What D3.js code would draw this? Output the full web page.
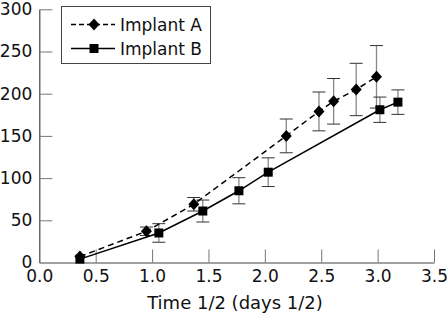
<!DOCTYPE html>
<html>
<head>
<meta charset="utf-8">
<script src="https://cdn.jsdelivr.net/npm/d3@7"></script>
<style>
  body { margin: 0; background: #fff; }
  svg text { font-family: "DejaVu Sans", sans-serif; fill: #111; }
</style>
</head>
<body>
<svg class="chart"></svg>
<script>
var width = 447;
var height = 317;

// series
var implantA_x = [0.36, 0.95, 1.37, 2.19, 2.48, 2.61, 2.81, 2.99];
var implantA_y = [7, 37, 69, 150, 179, 191, 205, 220];
var implantA_err = [0, 5, 8, 20, 23, 27, 31, 37];

var implantB_x = [0.36, 1.06, 1.45, 1.77, 2.03, 3.02, 3.18];
var implantB_y = [4, 35, 61, 85, 107, 181, 190];
var implantB_err = [0, 11, 13, 15.5, 17, 15, 14.5];

var x_ticks = [0, 0.5, 1.0, 1.5, 2.0, 2.5, 3.0, 3.5];
var y_ticks = [0, 50, 100, 150, 200, 250, 300];
var series_names = ['Implant A', 'Implant B'];

var margin = {'top': 9.3, 'right': 13, 'bottom': 54.5, 'left': 39.3};

var chart = d3.select(".chart")
    .attr("width", width)
    .attr("height", height);

var x = d3.scaleLinear()
  .domain([0, 3.5])
  .range([margin.left, width - margin.right]);

var y = d3.scaleLinear()
  .domain([0, 300])
  .range([height - margin.bottom, margin.top]);

var toPoints = function(xs, ys, errs){
  return xs.map(function(v, i){ return {'x': v, 'y': ys[i], 'err': errs[i]}; });
};
var seriesA = toPoints(implantA_x, implantA_y, implantA_err);
var seriesB = toPoints(implantB_x, implantB_y, implantB_err);

// x axis, ticks pointing up into the plot
var x_axis = d3.axisBottom(x)
  .tickValues(x_ticks)
  .tickSizeInner(-13)
  .tickSizeOuter(0)
  .tickFormat(d3.format('.1f'));

var gx = chart.append('g')
  .attr('transform', 'translate(0,' + y(0) + ')')
  .call(x_axis);
gx.select('.domain').attr('stroke', '#444').attr('stroke-width', 1.2);
gx.selectAll('.tick line').attr('stroke', '#777');
gx.selectAll('.tick').filter(function(d){ return d === 0; }).select('line').remove();
gx.selectAll('.tick text')
  .attr('font-size', 17)
  .attr('font-family', '"DejaVu Sans", sans-serif')
  .attr('y', 19)
  .attr('dy', null);

// y axis, ticks pointing right
var y_axis = d3.axisLeft(y)
  .tickValues(y_ticks)
  .tickSizeInner(-13)
  .tickSizeOuter(0)
  .tickPadding(7);

var gy = chart.append('g')
  .attr('transform', 'translate(' + x(0) + ',0)')
  .call(y_axis);
gy.select('.domain').attr('stroke', '#444').attr('stroke-width', 1.2);
gy.selectAll('.tick line').attr('stroke', '#777');
gy.selectAll('.tick').filter(function(d){ return d === 0; }).select('line').remove();
gy.selectAll('.tick text')
  .attr('font-size', 17)
  .attr('font-family', '"DejaVu Sans", sans-serif');

// axis title
chart.append('text')
  .attr('x', 235)
  .attr('y', 309)
  .attr('text-anchor', 'middle')
  .attr('font-size', 18)
  .text('Time 1/2 (days 1/2)');

// error bars
var drawErrors = function(data){
  var g = chart.append('g');
  var bars = g.selectAll('g')
    .data(data.filter(function(d){ return d.err > 0; }))
    .join('g');
  bars.append('line')
    .attr('x1', function(d){ return x(d.x); })
    .attr('x2', function(d){ return x(d.x); })
    .attr('y1', function(d){ return y(d.y + d.err); })
    .attr('y2', function(d){ return y(d.y - d.err); })
    .attr('stroke', '#888')
    .attr('stroke-width', 1.3);
  [1, -1].forEach(function(s){
    bars.append('line')
      .attr('x1', function(d){ return x(d.x) - 6.5; })
      .attr('x2', function(d){ return x(d.x) + 6.5; })
      .attr('y1', function(d){ return y(d.y + s * d.err); })
      .attr('y2', function(d){ return y(d.y + s * d.err); })
      .attr('stroke', '#333')
      .attr('stroke-width', 1);
  });
};
drawErrors(seriesA);
drawErrors(seriesB);

var line = d3.line()
  .x(function(d){ return x(d.x); })
  .y(function(d){ return y(d.y); });

chart.append('path')
  .datum(seriesA)
  .attr('d', line)
  .attr('fill', 'none')
  .attr('stroke', '#000')
  .attr('stroke-width', 1.5)
  .attr('stroke-dasharray', '6,4');

chart.append('path')
  .datum(seriesB)
  .attr('d', line)
  .attr('fill', 'none')
  .attr('stroke', '#000')
  .attr('stroke-width', 1.5);

var diamond = function(cx, cy){
  return 'M' + cx + ',' + (cy - 6) + 'L' + (cx + 5.5) + ',' + cy + 'L' + cx + ',' + (cy + 6) + 'L' + (cx - 5.5) + ',' + cy + 'Z';
};

chart.append('g').selectAll('path')
  .data(seriesA)
  .join('path')
    .attr('d', function(d){ return diamond(x(d.x), y(d.y)); })
    .attr('fill', '#000');

chart.append('g').selectAll('rect')
  .data(seriesB)
  .join('rect')
    .attr('x', function(d){ return x(d.x) - 4.5; })
    .attr('y', function(d){ return y(d.y) - 4.5; })
    .attr('width', 9)
    .attr('height', 9)
    .attr('fill', '#000');

// legend
var legend = chart.append('g');
legend.append('rect')
  .attr('x', 61.5)
  .attr('y', 6.5)
  .attr('width', 149)
  .attr('height', 57)
  .attr('fill', '#fff')
  .attr('stroke', '#444')
  .attr('stroke-width', 1);

series_names.forEach(function(name, i){
  var ly = 24.5 + i * 24;
  legend.append('line')
    .attr('x1', 71).attr('x2', 115)
    .attr('y1', ly).attr('y2', ly)
    .attr('stroke', '#000')
    .attr('stroke-width', 1.5)
    .attr('stroke-dasharray', i === 0 ? '5,3' : null);
  if (i === 0) {
    legend.append('path').attr('d', diamond(94, ly)).attr('fill', '#000');
  } else {
    legend.append('rect')
      .attr('x', 89.5).attr('y', ly - 4.5)
      .attr('width', 9).attr('height', 9)
      .attr('fill', '#000');
  }
  legend.append('text')
    .attr('x', 120)
    .attr('y', ly)
    .attr('dy', '0.36em')
    .attr('font-size', 17)
    .text(name);
});
</script>
</body>
</html>
